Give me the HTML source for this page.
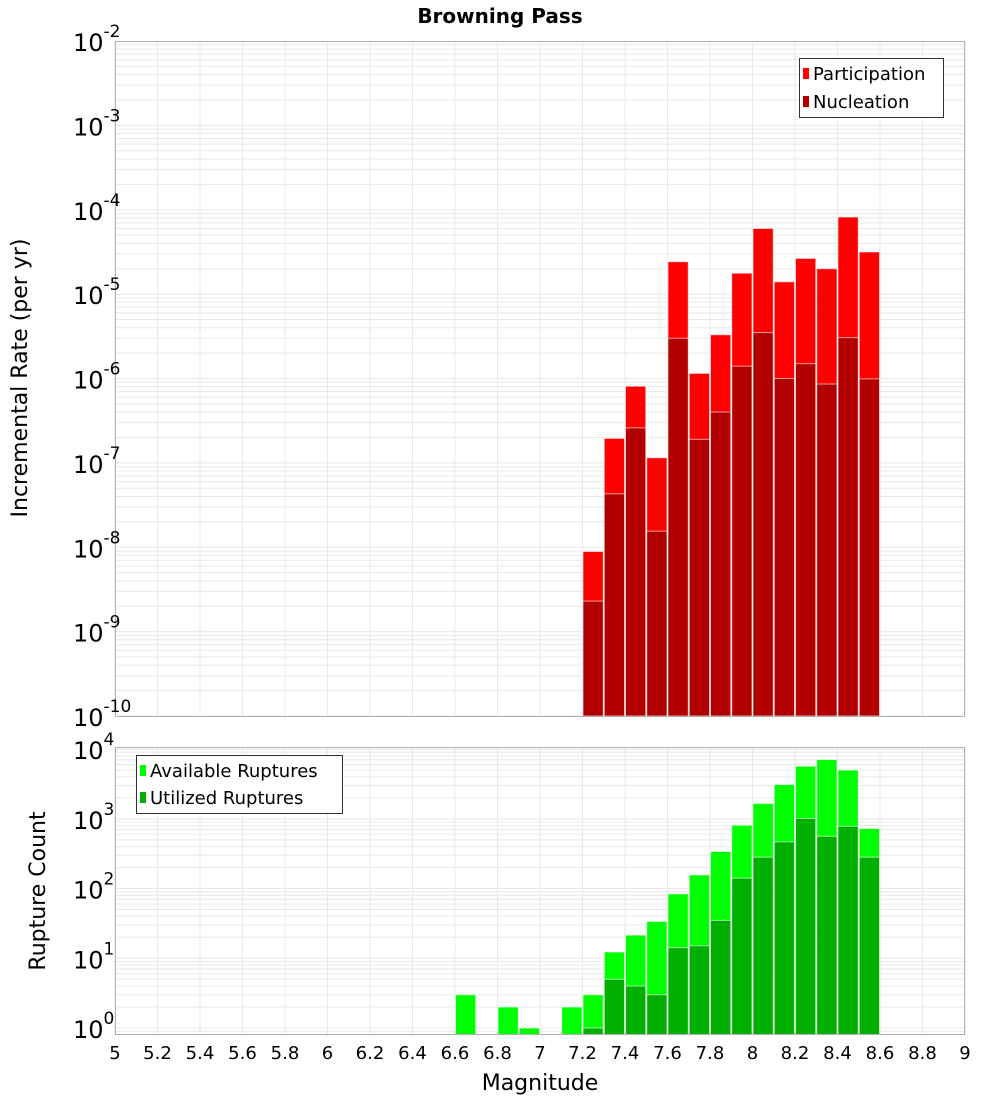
<!DOCTYPE html>
<html><head><meta charset="utf-8"><style>
body{margin:0;background:#fff;}
svg{display:block;font-family:"DejaVu Sans","Liberation Sans",sans-serif;}
</style></head><body>
<svg id="c" width="1000" height="1100" xmlns="http://www.w3.org/2000/svg">
<text x="500" y="23" text-anchor="middle" font-size="20" font-weight="bold">Browning Pass</text>
<g id="topPlot"></g>
<g id="botPlot"></g>
<text transform="translate(27,378) rotate(-90)" text-anchor="middle" font-size="22">Incremental Rate (per yr)</text>
<text transform="translate(45,891) rotate(-90)" text-anchor="middle" font-size="22">Rupture Count</text>
<text x="540" y="1090" text-anchor="middle" font-size="22">Magnitude</text>
<g>
<rect x="799.5" y="58.5" width="144" height="59" fill="#fff" stroke="#333"/>
<rect x="803" y="68" width="6" height="11" fill="#ff0000"/>
<text x="813" y="80" font-size="18">Participation</text>
<rect x="803" y="96" width="6" height="11" fill="#b20000"/>
<text x="813" y="108" font-size="18">Nucleation</text>
</g>
<g>
<rect x="136.5" y="755.5" width="206" height="58" fill="#fff" stroke="#333"/>
<rect x="140" y="765" width="6" height="11" fill="#00ff00"/>
<text x="150" y="777" font-size="18">Available Ruptures</text>
<rect x="140" y="792" width="6" height="11" fill="#00b000"/>
<text x="150" y="804" font-size="18">Utilized Ruptures</text>
</g>
</svg>
<script>
const rateMags=[7.2,7.3,7.4,7.5,7.6,7.7,7.8,7.9,8.0,8.1,8.2,8.3,8.4,8.5];
const participation=[8.9e-9,1.95e-7,8.1e-7,1.15e-7,2.42e-5,1.15e-6,3.3e-6,1.77e-5,6.0e-5,1.4e-5,2.65e-5,2.0e-5,8.2e-5,3.16e-5];
const nucleation=[2.3e-9,4.3e-8,2.6e-7,1.55e-8,3.0e-6,1.9e-7,4.0e-7,1.4e-6,3.5e-6,1.0e-6,1.5e-6,8.6e-7,3.05e-6,9.9e-7];
const countMags=[6.6,6.8,6.9,7.1,7.2,7.3,7.4,7.5,7.6,7.7,7.8,7.9,8.0,8.1,8.2,8.3,8.4,8.5];
const available=[3,2,1,2,3,12.3,21.5,33.8,84,157,340,810,1660,3100,5670,7070,5000,726];
const utilized=[0,0,0,0,1,5,4,3,14.2,15.1,35,141,282,467,1010,562,783,282];
const xTicks=[5,5.2,5.4,5.6,5.8,6,6.2,6.4,6.6,6.8,7,7.2,7.4,7.6,7.8,8,8.2,8.4,8.6,8.8,9];
const rateExps=[-10,-9,-8,-7,-6,-5,-4,-3,-2];
const countExps=[0,1,2,3,4];

const NS="http://www.w3.org/2000/svg";
const X0=115,X1=965;
const xs=m=>X0+(m-5)/4*(X1-X0);
function el(p,t,a){const e=document.createElementNS(NS,t);for(const k in a)e.setAttribute(k,a[k]);p.appendChild(e);return e;}
function plot(g,t0,b0,lmin,lmax){
  const ys=v=>b0-(Math.log10(v)-lmin)/(lmax-lmin)*(b0-t0);
  el(g,'rect',{x:X0,y:t0,width:X1-X0,height:b0-t0,fill:'#fff'});
  for(let d=Math.floor(lmin);d<Math.ceil(lmax);d++)for(let k=1;k<10;k++){
    const y=ys(k*Math.pow(10,d));if(y<t0||y>b0)continue;
    el(g,'line',{x1:X0,x2:X1,y1:y,y2:y,stroke:'#e8e8e8','stroke-width':1});
  }
  xTicks.forEach(t=>{const x=xs(t);el(g,'line',{x1:x,x2:x,y1:t0,y2:b0,stroke:'#e8e8e8','stroke-width':1});});
  return ys;
}
const gTop=document.getElementById('topPlot'),gBot=document.getElementById('botPlot');
const ysT=plot(gTop,41,716,-10,-2);
const ysB=plot(gBot,747,1035,-0.1,4.03);
const BW=(xs(5.1)-xs(5));
function bar(g,m,v,ys,base,fill,name){
  if(!(v>0))return;
  const y=Math.max(ys(v),0);
  const r=el(g,'rect',{x:xs(m)+0.5,y:y,width:BW-1,height:base-y,fill:fill,stroke:'#fff','stroke-opacity':0.6,'stroke-width':1});
  
  
}
rateMags.forEach((m,i)=>{bar(gTop,m,participation[i],ysT,716,'#ff0000','bar-participation-'+m);});
rateMags.forEach((m,i)=>{bar(gTop,m,nucleation[i],ysT,716,'#b20000','bar-nucleation-'+m);});
countMags.forEach((m,i)=>{bar(gBot,m,available[i],ysB,1035,'#00ff00','bar-available-'+m);});
countMags.forEach((m,i)=>{bar(gBot,m,utilized[i],ysB,1035,'#00b000','bar-utilized-'+m);});
el(gTop,'rect',{x:X0+0.5,y:41.5,width:X1-X0-1,height:675,fill:'none',stroke:'#b0b0b0'});
el(gBot,'rect',{x:X0+0.5,y:747.5,width:X1-X0-1,height:287,fill:'none',stroke:'#b0b0b0'});
function ylab(g,e,y){
  const t=el(g,'text',{x:73,y:y+10,'text-anchor':'start','font-size':24});
  
  
  t.textContent='10';
  const s=el(t,'tspan',{dy:-14,'font-size':17});s.textContent=String(e);
}
rateExps.forEach(e=>ylab(gTop,e,ysT(Math.pow(10,e))));
countExps.forEach(e=>ylab(gBot,e,ysB(Math.pow(10,e))));
xTicks.forEach(t=>{
  const tx=el(gBot,'text',{x:xs(t),y:1059,'text-anchor':'middle','font-size':18});
  
  
  tx.textContent=String(t);
});
</script>
</body></html>
